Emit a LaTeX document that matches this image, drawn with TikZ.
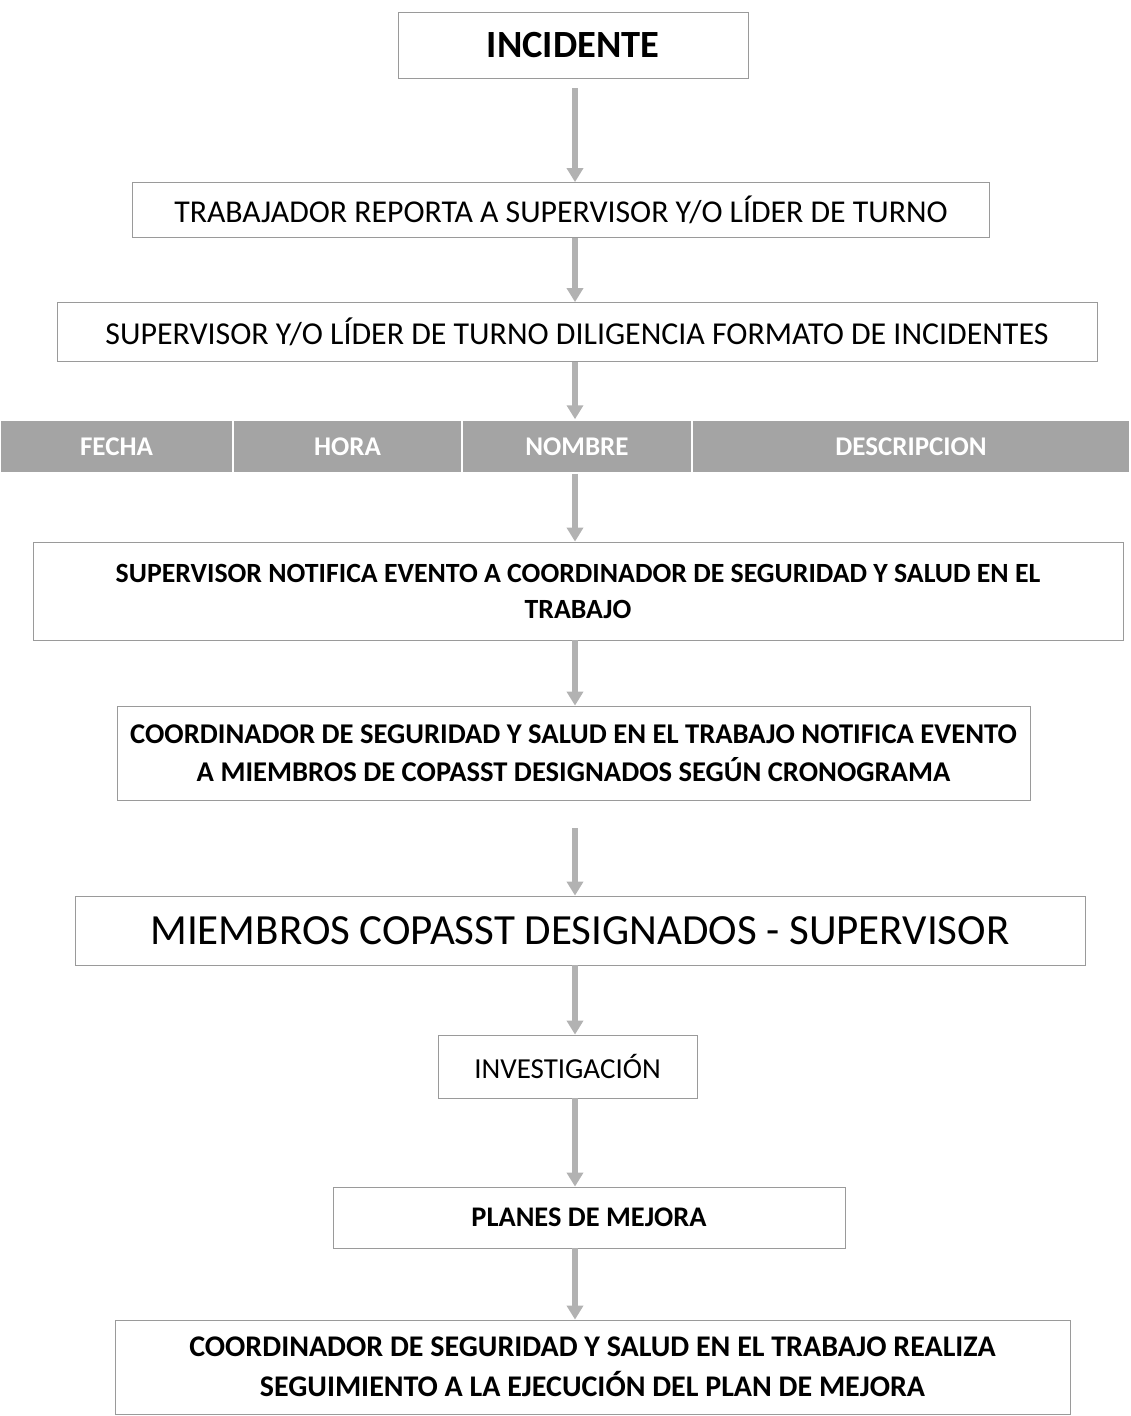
\documentclass[tikz,border=0pt]{standalone}
\usepackage{fontspec}
\setmainfont{Carlito}
\usetikzlibrary{arrows.meta}
\definecolor{barg}{HTML}{A4A4A4}
\definecolor{boxline}{HTML}{9A9A9A}

\begin{document}
\begin{tikzpicture}[x=1pt,y=-1pt,line width=0.8pt,
  box/.style={draw=boxline,line width=0.8pt,inner sep=0pt,align=center},
  cell/.style={fill=barg,draw=white,line width=1.5pt,inner sep=0pt,minimum height=53pt,
    text=white,font=\bfseries\fontsize{27}{31}\selectfont},
  flow/.style={-{Triangle[length=14pt,width=16pt]},line width=5.5pt,draw=gray!60}]
\useasboundingbox (0,0) rectangle (1130,1416);
\coordinate (mid) at (575,0);
% ---------- reporte ----------
\node[box,minimum width=350pt,minimum height=66pt,font=\bfseries\fontsize{38.5}{44}\selectfont]
  (inc) at (573,45) {INCIDENTE};
\node[box,minimum width=857pt,minimum height=55pt,font=\fontsize{31.8}{36}\selectfont]
  (rep) at (561,210) {TRABAJADOR REPORTA A SUPERVISOR Y/O LÍDER DE TURNO};
\node[box,minimum width=1040pt,minimum height=59pt,font=\fontsize{31.9}{36}\selectfont]
  (dil) at (577,332) {SUPERVISOR Y/O LÍDER DE TURNO DILIGENCIA FORMATO DE INCIDENTES};
% ---------- formato ----------
\node[cell,minimum width=233pt] (fecha) at (116.5,446.5) {FECHA};
\node[cell,minimum width=229pt] (hora) at (347.5,446.5) {HORA};
\node[cell,minimum width=230pt] (nombre) at (577,446.5) {NOMBRE};
\node[cell,minimum width=438pt] (desc) at (911,446.5) {DESCRIPCION};
% ---------- notificacion ----------
\node[box,minimum width=1090pt,minimum height=98pt,
  font=\bfseries\fontsize{27.8}{36}\selectfont] (notif) at (578,591)
  {SUPERVISOR NOTIFICA EVENTO A COORDINADOR DE SEGURIDAD Y SALUD EN EL\\TRABAJO};
\node[box,minimum width=913pt,minimum height=94pt,
  font=\bfseries\fontsize{28.6}{38}\selectfont] (coord) at (573.5,753)
  {COORDINADOR DE SEGURIDAD Y SALUD EN EL TRABAJO NOTIFICA EVENTO\\
   A MIEMBROS DE COPASST DESIGNADOS SEGÚN CRONOGRAMA};
\node[box,minimum width=1010pt,minimum height=69pt,font=\fontsize{43}{50}\selectfont]
  (miem) at (580,930.5) {MIEMBROS COPASST DESIGNADOS - SUPERVISOR};
% ---------- investigacion ----------
\node[box,minimum width=259pt,minimum height=63pt,font=\fontsize{29}{34}\selectfont]
  (inv) at (567.5,1066.5) {INVESTIGACIÓN};
\node[box,minimum width=512pt,minimum height=61pt,font=\bfseries\fontsize{28.4}{34}\selectfont]
  (plan) at (589,1217.5) {PLANES DE MEJORA};
\node[box,minimum width=955pt,minimum height=94pt,
  font=\bfseries\fontsize{30}{40}\selectfont] (seg) at (592.5,1367)
  {COORDINADOR DE SEGURIDAD Y SALUD EN EL TRABAJO REALIZA\\
   SEGUIMIENTO A LA EJECUCIÓN DEL PLAN DE MEJORA};
% ---------- flechas ----------
\draw[flow,shorten <=10pt] (inc.south -| mid) -- (rep.north -| mid);
\draw[flow] (rep.south -| mid) -- (dil.north -| mid);
\draw[flow] (dil.south -| mid) -- (nombre.north -| mid);
\draw[flow] (nombre.south -| mid) -- (notif.north -| mid);
\draw[flow] (notif.south -| mid) -- (coord.north -| mid);
\draw[flow,shorten <=28pt] (coord.south -| mid) -- (miem.north -| mid);
\draw[flow] (miem.south -| mid) -- (inv.north -| mid);
\draw[flow] (inv.south -| mid) -- (plan.north -| mid);
\draw[flow] (plan.south -| mid) -- (seg.north -| mid);
\end{tikzpicture}
\end{document}
